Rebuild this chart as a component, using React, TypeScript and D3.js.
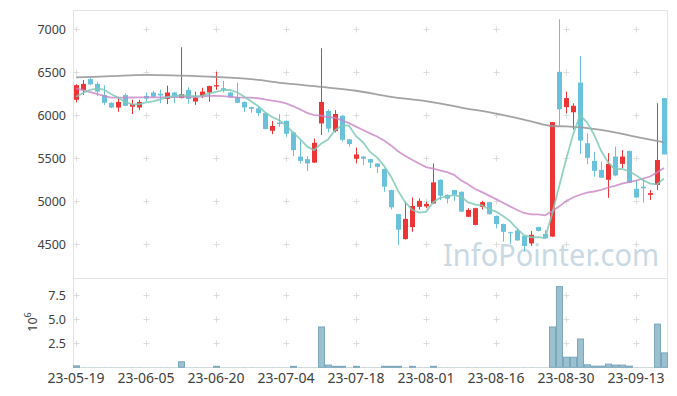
import React from 'react';
import * as d3 from 'd3';

// ---------- data ----------
const dates = [
  '23-05-19','23-05-22','23-05-23','23-05-24','23-05-25','23-05-26','23-05-30','23-05-31','23-06-01','23-06-02',
  '23-06-05','23-06-07','23-06-08','23-06-09','23-06-12','23-06-13','23-06-14','23-06-15','23-06-16','23-06-19',
  '23-06-20','23-06-21','23-06-22','23-06-23','23-06-26','23-06-27','23-06-28','23-06-29','23-06-30','23-07-03',
  '23-07-04','23-07-05','23-07-06','23-07-07','23-07-10','23-07-11','23-07-12','23-07-13','23-07-14','23-07-17',
  '23-07-18','23-07-19','23-07-20','23-07-21','23-07-24','23-07-25','23-07-26','23-07-27','23-07-28','23-07-31',
  '23-08-01','23-08-02','23-08-03','23-08-04','23-08-07','23-08-08','23-08-09','23-08-10','23-08-11','23-08-14',
  '23-08-16','23-08-17','23-08-18','23-08-21','23-08-22','23-08-23','23-08-24','23-08-25','23-08-28','23-08-29',
  '23-08-30','23-08-31','23-09-01','23-09-04','23-09-05','23-09-06','23-09-07','23-09-08','23-09-11','23-09-12',
  '23-09-13','23-09-14','23-09-15','23-09-18','23-09-19',
];

const opens = [
  6180,6295,6420,6365,6235,6145,6090,6235,6100,6090,
  6225,6265,6250,6190,6265,6200,6295,6160,6225,6265,
  6335,6315,6265,6210,6155,6095,6080,6025,5820,5915,
  5935,5800,5520,5490,5450,5905,6050,5815,5995,5720,
  5495,5520,5490,5440,5375,5130,4850,4560,4700,4935,
  4940,4975,5250,5075,5130,5110,4820,4725,4935,4990,
  4830,4735,4640,4660,4595,4510,4700,4620,4590,6505,
  6095,6035,6380,5675,5470,5365,5250,5520,5435,5585,
  5145,5170,5075,5190,6200,
];

const highs = [
  6360,6410,6440,6390,6350,6150,6215,6255,6180,6180,
  6265,6285,6300,6345,6270,6790,6325,6275,6320,6345,
  6505,6400,6275,6380,6160,6100,6110,6030,5935,6015,
  5940,5810,5710,5525,5730,6780,6070,6060,6000,5725,
  5625,5525,5495,5445,5380,5135,4855,4995,5045,5035,
  4995,5440,5255,5080,5135,5115,4920,4925,5005,4995,
  4835,4740,4645,4685,4600,4655,4705,4665,5920,7115,
  6275,6140,6690,5790,5575,5460,5560,5635,5595,5590,
  5250,5250,5130,6140,6200,
];

const lows = [
  6150,6235,6350,6225,6120,6085,6040,6105,6015,6060,
  6160,6200,6140,6130,6140,6195,6135,6120,6200,6155,
  6295,6265,6205,6140,6040,6030,5990,5835,5780,5865,
  5750,5525,5440,5350,5445,5770,5800,5800,5695,5635,
  5440,5420,5385,5330,5110,4905,4490,4555,4645,4905,
  4920,4970,5015,4975,5005,4875,4815,4720,4905,4845,
  4685,4530,4505,4540,4415,4480,4650,4565,4585,5885,
  6025,5835,5550,5430,5285,5270,5040,5290,5385,5210,
  5040,4985,5015,5130,5545,
];

const closes = [
  6350,6365,6360,6275,6145,6090,6155,6110,6130,6155,
  6195,6215,6230,6265,6210,6245,6190,6205,6275,6340,
  6350,6295,6210,6145,6090,6075,6025,5840,5875,5900,
  5785,5595,5470,5440,5680,6155,5845,6015,5715,5665,
  5545,5495,5450,5400,5170,4930,4670,4795,4945,5005,
  4970,5220,5065,5030,5075,4880,4900,4920,4990,4850,
  4735,4645,4630,4545,4480,4610,4655,4570,5920,6070,
  6200,6110,5705,5505,5355,5275,5435,5300,5520,5215,
  5045,5150,5095,5480,5545,
];

// closes of the 19 sessions before 23-05-19 (estimated from the start of the MA curves)
const priorCloses = [
  6800,6795,6715,6580,6525,
  6140,6100,6120,6150,6180,6200,6220,6250,6200,6225,
  6150,6180,6200,6200,
];

const volumes = [
  150000,30000,30000,30000,30000,30000,30000,30000,30000,30000,
  30000,30000,30000,30000,30000,570000,30000,30000,30000,30000,
  100000,30000,30000,30000,30000,30000,30000,30000,30000,30000,
  30000,100000,30000,30000,30000,4200000,230000,100000,100000,30000,
  100000,30000,30000,30000,100000,100000,100000,30000,100000,30000,
  30000,100000,30000,30000,30000,30000,30000,30000,30000,30000,
  30000,30000,30000,30000,30000,30000,30000,30000,4200000,8400000,
  1050000,1050000,2950000,260000,120000,120000,330000,230000,230000,120000,
  30000,30000,30000,4500000,1500000,
];

// long moving average (grey line), read at sampled sessions
const longMaIdx = [0,5,10,15,20,25,30,35,40,45,50,55,60,65,68,70,75,80,84];
const longMaVal = [6440,6455,6470,6460,6445,6420,6370,6330,6285,6215,6165,6090,6020,5930,5875,5870,5830,5750,5685];

const priceTicks = [4500, 5000, 5500, 6000, 6500, 7000];
const volTicks = [2500000, 5000000, 7500000];
const volTickLabels = ['2.5', '5.0', '7.5'];
const xTickIdx = [0, 10, 20, 30, 40, 50, 60, 70, 80];

// ---------- layout ----------
const W = 677, H = 396;
const L = 73, R = 667, T = 10, MID = 278, B = 367;
const FONT = '"Noto Sans", "DejaVu Sans", sans-serif';
const UP = '#ee3535';
const DOWN = '#6ac1da';

export default function App() {
  const n = dates.length;
  const x = d3.scaleBand<number>().domain(d3.range(n)).range([L - 0.5, R + 0.5]).padding(0);
  const cx = (i: number) => (x(i) as number) + x.bandwidth() / 2;
  const y = d3.scaleLinear().domain([4108, 7224]).range([MID, T]);
  const yv = d3.scaleLinear().domain([0, 9.27e6]).range([B + 0.3, MID + 0.3]);

  const all = [...priorCloses, ...closes];
  const P = priorCloses.length;
  const ma = (k: number) => closes.map((_, i) => d3.mean(all.slice(i + P - k + 1, i + P + 1)) as number);
  const ma5 = ma(5);
  const ma20 = ma(20);

  const line = d3.line<number>().x((_, i) => cx(i)).y((v) => y(v)).curve(d3.curveLinear);
  const longLine = d3.line<number>().x((_, k) => cx(longMaIdx[k])).y((v) => y(v)).curve(d3.curveMonotoneX);

  const crosses: string[] = [];
  xTickIdx.forEach((i) => {
    const px = Math.round(cx(i)) + 0.5;
    priceTicks.forEach((p) => {
      const py = Math.round(y(p)) + 0.5;
      crosses.push(`M${px - 3},${py}h6M${px},${py - 3}v6`);
    });
    volTicks.forEach((v) => {
      const py = Math.round(yv(v)) + 0.5;
      crosses.push(`M${px - 3},${py}h6M${px},${py - 3}v6`);
    });
  });

  return (
    <svg width={W} height={H} style={{ position: 'absolute', left: 0, top: 0, background: '#fff' }} fontFamily={FONT}>
      <rect x={0} y={0} width={W} height={H} fill="#fff" />
      {/* grid crosses */}
      <path d={crosses.join('')} stroke="#dcdcdc" strokeWidth={1} fill="none" />
      {/* watermark */}
      <text x={443} y={266} fontSize={30} fill="#c9d9e3" textLength={216} lengthAdjust="spacingAndGlyphs">InfoPointer.com</text>

      {/* frame */}
      <g stroke="#e3e3e3" strokeWidth={1} fill="none" shapeRendering="crispEdges">
        <line x1={L} x2={L} y1={T} y2={B} />
        <line x1={R} x2={R} y1={T} y2={B} />
        <line x1={L} x2={R} y1={T} y2={T} />
        <line x1={L} x2={R} y1={MID} y2={MID} />
        <line x1={L} x2={R} y1={B} y2={B} />
      </g>

      {/* candles */}
      {closes.map((c, i) => {
        const o = opens[i];
        const col = c >= o ? UP : DOWN;
        const px = cx(i);
        const top = y(Math.max(o, c));
        const bot = y(Math.min(o, c));
        return (
          <g key={i}>
            <line x1={px + 0.5} x2={px + 0.5} y1={y(highs[i])} y2={y(lows[i])} stroke={col} strokeWidth={1} />
            <rect x={Math.round(px - 2.5)} y={top} width={5} height={Math.max(1, bot - top)} fill={col} />
          </g>
        );
      })}

      {/* moving averages */}
      <path d={longLine(longMaVal) as string} fill="none" stroke="#999" strokeWidth={1.8} strokeOpacity={0.9} />
      <path d={line(ma20) as string} fill="none" stroke="#c984c5" strokeWidth={1.8} strokeOpacity={0.8} />
      <path d={line(ma5) as string} fill="none" stroke="#80c9b9" strokeWidth={1.8} strokeOpacity={0.85} />

      {/* volume */}
      {volumes.map((v, i) => (
        <rect key={i} x={Math.round(cx(i)) - 3 + 0.5} y={yv(v)} width={6} height={Math.max(0, yv(0) - yv(v))}
          fill="#9bc0d0" stroke="#7ba7bb" strokeWidth={v > 60000 ? 1 : 0} />
      ))}

      {/* price axis labels */}
      {priceTicks.map((p) => (
        <text key={p} x={66} y={y(p)} dy="0.36em" textAnchor="end" fontSize={12.5} fill="#404040">{p}</text>
      ))}
      {volTicks.map((v, k) => (
        <text key={v} x={66} y={yv(v)} dy="0.36em" textAnchor="end" fontSize={12.5} fill="#404040">{volTickLabels[k]}</text>
      ))}
      <text transform="translate(37,322) rotate(-90)" textAnchor="middle" fontSize={12.5} fill="#404040">
        10<tspan dy={-6} fontSize={9}>6</tspan>
      </text>

      {/* date labels */}
      {xTickIdx.map((i) => (
        <text key={i} x={cx(i)} y={383} textAnchor="middle" fontSize={14} fill="#404040">{dates[i]}</text>
      ))}
    </svg>
  );
}
